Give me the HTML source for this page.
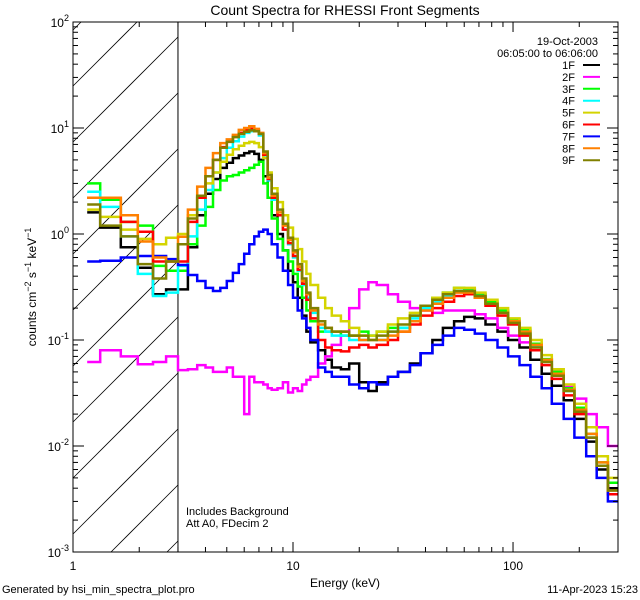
<!DOCTYPE html>
<html><head><meta charset="utf-8"><style>
html,body{margin:0;padding:0;background:#fff;width:640px;height:600px;overflow:hidden;}
svg{display:block;font-family:"Liberation Sans",sans-serif;}
</style></head><body>
<svg id="chart" width="640" height="600" viewBox="0 0 640 600" xmlns="http://www.w3.org/2000/svg">
<rect width="640" height="600" fill="#fff"/>
<text x="345" y="15" text-anchor="middle" font-size="14">Count Spectra for RHESSI Front Segments</text>
<g id="hatch"></g>
<g id="series"></g>
<g id="axes"></g>
<text x="345" y="587" text-anchor="middle" font-size="12">Energy (keV)</text>
<text transform="translate(36,287) rotate(-90)" text-anchor="middle" font-size="12">counts cm<tspan dy="-5" font-size="9">−2</tspan><tspan dy="5"> s</tspan><tspan dy="-5" font-size="9">−1</tspan><tspan dy="5"> keV</tspan><tspan dy="-5" font-size="9">−1</tspan></text>
<text x="598" y="45" text-anchor="end" font-size="11">19-Oct-2003</text>
<text x="598" y="57" text-anchor="end" font-size="11">06:05:00 to 06:06:00</text>
<text x="186" y="515" font-size="11">Includes Background</text>
<text x="186" y="527" font-size="11">Att A0, FDecim 2</text>
<text x="2" y="593" font-size="11">Generated by hsi_min_spectra_plot.pro</text>
<text x="638" y="593" text-anchor="end" font-size="11">11-Apr-2023 15:23</text>
<g id="legend"></g>
</svg>
<script>
const edges=[1.16,1.33,1.65,1.97,2.31,2.65,3,3.33,3.67,4,4.33,4.67,5,5.33,5.67,6,6.33,6.67,7,7.33,7.67,8,8.5,9,9.5,10,10.5,11,11.5,12,13,14,15,16.5,18,20,22,24,27,30,34,38,43,48,54,60,67,75,85,95,107,120,135,150,170,190,215,240,270,300];
const seriesNames=["1F","2F","3F","4F","5F","6F","7F","8F","9F"];
const seriesColors=["#000000","#ff00ff","#00ff00","#00ffff","#d4d400","#ff0000","#0000ff","#ff8000","#808000"];
const s1F=[1.6,1.15,0.75,0.48,0.27,0.30, 0.3,0.75,1.5,2.4,3.3,4.2,4.7,5.2,5.5,5.8,6.0,5.7,5.0,3.5,2.2,1.5,1.0,0.7,0.45,0.35,0.25,0.17,0.12,0.095,0.08,0.065,0.055,0.053,0.06,0.04,0.033,0.04,0.045,0.05,0.06,0.075,0.1,0.13,0.15,0.165,0.16,0.14,0.12,0.1,0.085,0.065,0.048,0.037,0.027,0.018,0.011,0.006,0.004];
const s2F=[0.062,0.08,0.07,0.059,0.062,0.07, 0.052,0.053,0.058,0.055,0.05,0.05,0.055,0.045,0.045,0.02,0.045,0.04,0.04,0.038,0.035,0.034,0.035,0.04,0.032,0.035,0.033,0.038,0.042,0.045,0.06,0.07,0.09,0.12,0.2,0.3,0.35,0.33,0.27,0.23,0.2,0.19,0.18,0.19,0.19,0.19,0.175,0.16,0.13,0.11,0.095,0.08,0.065,0.05,0.036,0.028,0.02,0.015,0.01];
const s3F=[3.0,2.1,1.3,1.2,0.5,0.45, 0.45,0.8,1.2,1.8,2.6,3.2,3.5,3.6,3.8,4.0,4.2,4.5,4.8,3.0,2.2,1.4,0.9,0.7,0.55,0.42,0.32,0.25,0.19,0.15,0.12,0.12,0.12,0.11,0.11,0.12,0.11,0.12,0.13,0.13,0.17,0.21,0.25,0.28,0.31,0.30,0.27,0.23,0.19,0.155,0.125,0.092,0.066,0.05,0.035,0.023,0.013,0.007,0.0045];
const s4F=[2.5,1.8,0.95,0.42,0.26,0.28, 0.5,0.95,1.7,2.6,3.8,5.2,6.5,7.5,8.3,9.0,9.3,9.3,8.5,5.5,3.2,2.1,1.5,1.1,0.8,0.6,0.45,0.33,0.25,0.18,0.13,0.12,0.11,0.11,0.10,0.10,0.11,0.10,0.12,0.13,0.16,0.2,0.23,0.26,0.29,0.29,0.26,0.22,0.18,0.15,0.12,0.088,0.063,0.047,0.033,0.021,0.012,0.0065,0.0035];
const s5F=[1.7,1.45,1.1,0.9,0.8,0.92, 1.0,1.5,2.2,3.0,3.8,4.8,5.6,6.3,6.8,7.2,7.4,7.2,6.6,5.2,3.8,2.7,2.0,1.5,1.15,0.9,0.72,0.55,0.42,0.33,0.25,0.2,0.17,0.15,0.13,0.11,0.11,0.12,0.14,0.16,0.18,0.21,0.25,0.28,0.31,0.31,0.28,0.24,0.2,0.16,0.13,0.1,0.072,0.053,0.038,0.025,0.015,0.008,0.005];
const s6F=[2.2,2.2,1.3,1.05,0.55,0.55, 0.55,1.3,2.2,3.5,5.0,6.6,7.5,8.3,9.0,9.6,9.8,9.5,8.8,5.6,3.3,2.2,1.5,1.1,0.82,0.62,0.46,0.34,0.24,0.16,0.1,0.085,0.08,0.078,0.085,0.09,0.085,0.09,0.1,0.12,0.14,0.17,0.2,0.23,0.26,0.27,0.25,0.21,0.17,0.14,0.11,0.08,0.058,0.043,0.03,0.02,0.012,0.0065,0.0035];
const s7F=[0.55,0.56,0.6,0.62,0.62,0.58, 0.51,0.41,0.36,0.31,0.29,0.31,0.36,0.43,0.52,0.65,0.8,0.95,1.05,1.1,1.0,0.8,0.6,0.45,0.33,0.25,0.19,0.16,0.13,0.1,0.055,0.05,0.045,0.045,0.038,0.035,0.04,0.038,0.045,0.05,0.058,0.075,0.09,0.11,0.13,0.125,0.115,0.1,0.085,0.07,0.058,0.045,0.035,0.025,0.018,0.012,0.008,0.005,0.003];
const s8F=[2.2,2.2,1.5,0.85,0.6,0.55, 0.94,1.7,2.8,4.2,5.8,7.2,7.8,8.6,9.6,10.0,10.4,9.8,9.0,5.8,3.4,2.3,1.6,1.2,0.88,0.67,0.49,0.36,0.27,0.19,0.14,0.13,0.12,0.12,0.11,0.10,0.10,0.10,0.11,0.12,0.15,0.19,0.22,0.25,0.28,0.28,0.25,0.22,0.18,0.15,0.12,0.09,0.065,0.048,0.034,0.022,0.013,0.007,0.0038];
const s9F=[1.9,1.2,0.95,0.52,0.38,0.55, 0.8,1.4,2.3,3.5,5.0,6.5,7.4,8.2,8.8,9.2,9.5,9.3,8.8,6.0,3.6,2.4,1.7,1.25,0.92,0.7,0.52,0.38,0.28,0.2,0.15,0.13,0.12,0.12,0.11,0.11,0.10,0.11,0.12,0.14,0.17,0.21,0.24,0.27,0.29,0.29,0.26,0.22,0.18,0.145,0.115,0.085,0.062,0.046,0.033,0.021,0.012,0.0065,0.0038];
const seriesValues=[s1F,s2F,s3F,s4F,s5F,s6F,s7F,s8F,s9F];
const yTickExps=[-3,-2,-1,0,1,2];
const xTickLabels=["1","10","100"];
const xTickValues=[1,10,100];

const NS="http://www.w3.org/2000/svg";
const L=73,R=618,T=22,B=552;
const X0=1,X1=300,Y0=1e-3,Y1=100;
function xs(e){return L+(Math.log10(e)-Math.log10(X0))/(Math.log10(X1)-Math.log10(X0))*(R-L);}
function ys(v){return B-(Math.log10(v)-Math.log10(Y0))/(Math.log10(Y1)-Math.log10(Y0))*(B-T);}
function mk(tag,attrs,parent){const el=document.createElementNS(NS,tag);for(const k in attrs)el.setAttribute(k,attrs[k]);parent.appendChild(el);return el;}

const hatch=document.getElementById('hatch');
const X3=xs(3);
for(let c=86-56*3;c<B+(X3-L);c+=56){
  const xa=L+Math.max(0,c-B), xb=L+Math.min(X3-L,c-T);
  if(xb<=xa) continue;
  const ln=mk('line',{x1:xa,y1:c-(xa-L),x2:xb,y2:c-(xb-L),stroke:'#000','stroke-width':0.8},hatch);
  
  
}
const sep=mk('line',{x1:X3,y1:T,x2:X3,y2:B,stroke:'#000','stroke-width':1},hatch);



const sg=document.getElementById('series');
const scp=mk('clipPath',{id:'pc'},sg);
mk('rect',{x:L,y:T,width:R-L,height:B-T},scp);
seriesValues.forEach((vals,si)=>{
  let d='';
  for(let i=0;i<vals.length;i++){
    const xa=xs(edges[i]),xb=xs(edges[i+1]),y=ys(vals[i]);
    d+=(i===0?'M':'L')+xa.toFixed(1)+','+y.toFixed(1)+'L'+xb.toFixed(1)+','+y.toFixed(1);
  }
  const p=mk('path',{d:d,fill:'none',stroke:seriesColors[si],'stroke-width':2.5,'stroke-linejoin':'miter','clip-path':'url(#pc)'},sg);
  
  
});

const ax=document.getElementById('axes');
const frame=mk('rect',{x:L,y:T,width:R-L,height:B-T,fill:'none',stroke:'#000','stroke-width':1},ax);


yTickExps.forEach(e=>{
  const y=ys(Math.pow(10,e));
  mk('line',{x1:L,y1:y,x2:L+11,y2:y,stroke:'#000'},ax);
  mk('line',{x1:R,y1:y,x2:R-11,y2:y,stroke:'#000'},ax);
  const t=mk('text',{x:L-4,y:y+5,'text-anchor':'end','font-size':12},ax);
  
  
  t.innerHTML='10<tspan dy="-6" font-size="9">'+e+'</tspan>';
  if(e<2){for(let m=2;m<10;m++){const ym=ys(m*Math.pow(10,e));
    mk('line',{x1:L,y1:ym,x2:L+5,y2:ym,stroke:'#000'},ax);
    mk('line',{x1:R,y1:ym,x2:R-5,y2:ym,stroke:'#000'},ax);}}
});
for(let dec=1;dec<=100;dec*=10){for(let m=1;m<10;m++){const v=m*dec;if(v>X1)break;const x=xs(v);const len=(m===1)?10:5;
  mk('line',{x1:x,y1:B,x2:x,y2:B-len,stroke:'#000'},ax);
  mk('line',{x1:x,y1:T,x2:x,y2:T+len,stroke:'#000'},ax);}}
xTickValues.forEach((v,i)=>{
  const t=mk('text',{x:xs(v),y:B+18,'text-anchor':'middle','font-size':12},ax);
  
  
  t.textContent=xTickLabels[i];
});

const lg=document.getElementById('legend');
seriesNames.forEach((n,i)=>{
  const y=65+i*11.9;
  const t=mk('text',{x:575,y:y+4,'text-anchor':'end','font-size':11},lg);
  
  
  t.textContent=n;
  const l=mk('line',{x1:583,y1:y,x2:600,y2:y,stroke:seriesColors[i],'stroke-width':2},lg);
  
  
});
</script>
</body></html>
